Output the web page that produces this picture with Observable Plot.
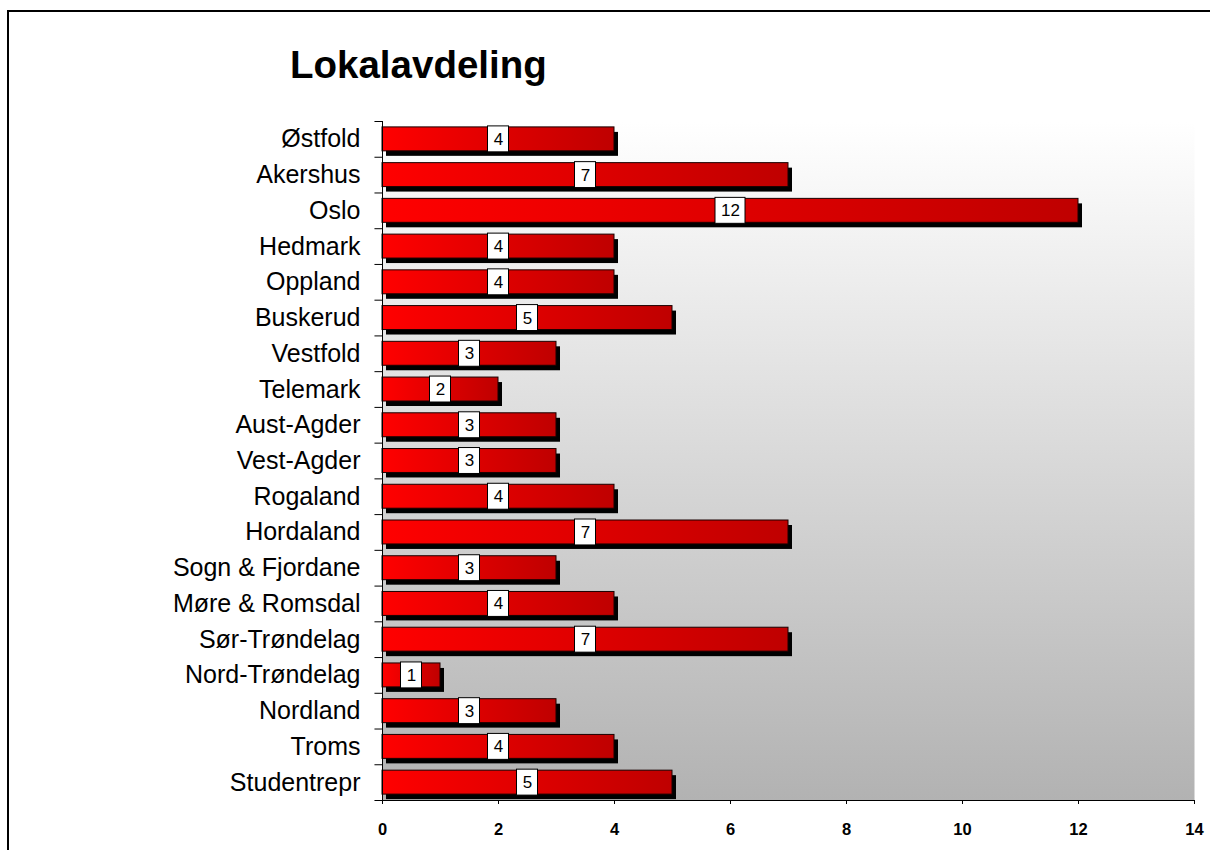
<!DOCTYPE html>
<html><head><meta charset="utf-8">
<script src="https://cdn.jsdelivr.net/npm/d3@7"></script>
<script src="https://cdn.jsdelivr.net/npm/@observablehq/plot@0.6"></script>
<style>
body{margin:0;background:#fff;font-family:"Liberation Sans",Arial,sans-serif;}
#wrap{position:relative;width:1210px;height:850px;overflow:hidden;}
#border{position:absolute;left:7px;top:10px;width:1300px;height:1000px;border-left:2px solid #000;border-top:2px solid #000;}
#title{position:absolute;left:290px;top:46px;font-weight:bold;font-size:38.5px;line-height:38.5px;color:#000;white-space:nowrap;}
#chart{position:absolute;left:0;top:0;}
</style></head>
<body>
<div id="wrap">
  <div id="border"></div>
  <div id="chart"></div>
  <div id="title">Lokalavdeling</div>
</div>
<script>
const categories = ["Østfold","Akershus","Oslo","Hedmark","Oppland","Buskerud","Vestfold","Telemark","Aust-Agder","Vest-Agder","Rogaland","Hordaland","Sogn & Fjordane","Møre & Romsdal","Sør-Trøndelag","Nord-Trøndelag","Nordland","Troms","Studentrepr"];
const values = [4,7,12,4,4,5,3,2,3,3,4,7,3,4,7,1,3,4,5];
const xTicks = [0,2,4,6,8,10,12,14];

const data = categories.map((c, i) => ({cat: c, value: values[i]}));

const W = 1210, H = 850;
const mL = 382, mR = 16, mT = 121, mB = 50;
const pxPerUnit = (W - mL - mR) / 14;
const step = (H - mT - mB) / categories.length;
const boxHalf = d => (12 + 9 * String(d.value).length) / 2 / pxPerUnit;

const chart = Plot.plot({
  width: W, height: H,
  marginLeft: mL, marginRight: mR, marginTop: mT, marginBottom: mB,
  style: {fontFamily: '"Liberation Sans", Arial, sans-serif', background: "transparent", color: "#000"},
  x: {domain: [0, 14], label: null},
  y: {domain: categories, paddingInner: 0.33, paddingOuter: 0.165, round: false, label: null},
  marks: [
    Plot.frame({fill: "url(#bgGrad)", stroke: null}),
    Plot.barX(data, {y: "cat", x: "value", fill: "#000", dx: 4, dy: 5}),
    Plot.barX(data, {y: "cat", x: "value", fill: "url(#barGrad)", stroke: "#1a0000", strokeWidth: 1}),
    Plot.barX(data, {y: "cat", x1: d => d.value / 2 - boxHalf(d), x2: d => d.value / 2 + boxHalf(d), fill: "#fff", stroke: "#000", strokeWidth: 1, insetTop: -1, insetBottom: -1}),
    Plot.text(data, {y: "cat", x: d => d.value / 2, text: d => String(d.value), fontSize: 17, fill: "#000"}),
    Plot.ruleX([0], {stroke: "#000", strokeWidth: 1}),
    Plot.frame({anchor: "bottom", stroke: "#000", strokeWidth: 1}),
    Plot.ruleY(categories, {y: d => d, x1: -0.13, x2: 0, dy: -step / 2, stroke: "#000"}),
    Plot.ruleY(categories.slice(-1), {y: d => d, x1: -0.13, x2: 0, dy: step / 2, stroke: "#000"}),
    Plot.axisY({tickSize: 0, tickPadding: 22, fontSize: 25, label: null}),
    Plot.axisX({ticks: xTicks, tickSize: 4, tickPadding: 19, fontSize: 16.5, fontWeight: "bold", label: null})
  ]
});

const svg = d3.select(chart);
const defs = svg.insert("defs", ":first-child");
const bg = defs.append("linearGradient").attr("id", "bgGrad").attr("x1", 0).attr("y1", 0).attr("x2", 0).attr("y2", 1);
bg.append("stop").attr("offset", "0%").attr("stop-color", "#ffffff");
bg.append("stop").attr("offset", "100%").attr("stop-color", "#b2b2b2");
const bar = defs.append("linearGradient").attr("id", "barGrad").attr("x1", 0).attr("y1", 0).attr("x2", 1).attr("y2", 0);
bar.append("stop").attr("offset", "0%").attr("stop-color", "#ff0000");
bar.append("stop").attr("offset", "100%").attr("stop-color", "#bf0000");

document.getElementById("chart").appendChild(chart);
</script>
</body></html>
